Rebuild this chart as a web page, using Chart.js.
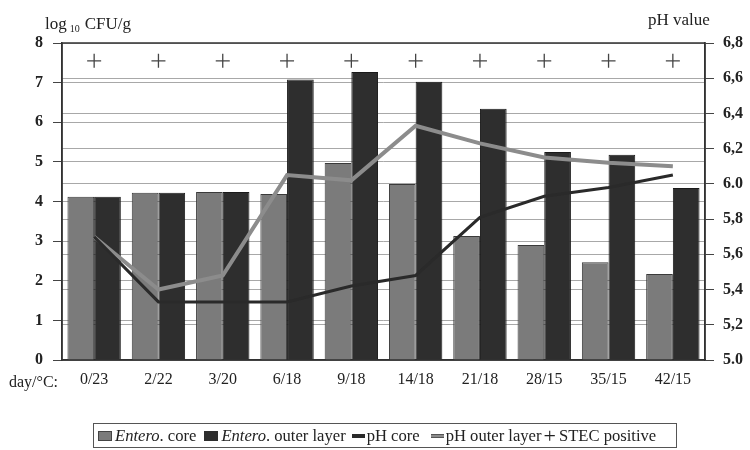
<!DOCTYPE html>
<html>
<head>
<meta charset="utf-8">
<script src="https://cdn.jsdelivr.net/npm/chart.js@4.4.0/dist/chart.umd.min.js"></script>
<style>
  body { margin: 0; background: #fff; }
  #wrap { position: relative; width: 750px; height: 450px; }
  #legend {
    position: absolute; left: 93px; top: 423px; width: 582px; height: 23px;
    border: 1.5px solid #555; box-sizing: content-box;
    font: 16.6px 'Liberation Serif', serif; color: #222;
    display: flex; align-items: center; white-space: nowrap;
  }
  #legend .it { display: flex; align-items: center; }
  #legend .sw { display: inline-block; width: 14px; height: 10px; margin-right: 3px; }
  #legend .dash { display: inline-block; width: 13px; height: 4px; margin-right: 2px; }
  #legend i { font-style: italic; }
</style>
</head>
<body>
<div id="wrap">
  <canvas id="chart" width="750" height="450"></canvas>
  <div id="legend">
    <span class="it" style="margin-left:4px"><span class="sw" style="background:#7b7b7b;border:1px solid #444;box-sizing:border-box"></span><i>Entero</i>.&nbsp;core</span>
    <span class="it" style="margin-left:8px"><span class="sw" style="background:#2e2e2e"></span><i>Entero</i>.&nbsp;outer layer</span>
    <span class="it" style="margin-left:6px"><span class="dash" style="background:#2a2a2a"></span>pH core</span>
    <span class="it" style="margin-left:11px"><span class="dash" style="background:#8c8c8c;border-top:1px solid #555;border-bottom:1px solid #555;box-sizing:border-box"></span>pH outer layer</span>
    <span class="it" style="margin-left:2px"><span style="font-size:22px;line-height:16px;margin-right:3px">+</span>STEC positive</span>
  </div>
</div>
<script>
// Chart data
const categories  = ['0/23','2/22','3/20','6/18','9/18','14/18','21/18','28/15','35/15','42/15'];
const enteroCore  = [4.12, 4.22, 4.24, 4.19, 4.97, 4.44, 3.13, 2.90, 2.47, 2.17];
const enteroOuter = [4.12, 4.22, 4.24, 7.08, 7.27, 7.02, 6.34, 5.25, 5.18, 4.34];
const phCore      = [5.70, 5.33, 5.33, 5.33, 5.42, 5.48, 5.81, 5.93, 5.98, 6.05];
const phOuter     = [5.70, 5.40, 5.48, 6.05, 6.02, 6.33, 6.23, 6.15, 6.12, 6.10];
const stecMarks   = [7.55, 7.55, 7.55, 7.55, 7.55, 7.55, 7.55, 7.55, 7.55, 7.55];
const phTicks      = [5.0, 5.2, 5.4, 5.6, 5.8, 6.0, 6.2, 6.4, 6.6, 6.8];
const phTickLabels = ['5.0','5,2','5,4','5,6','5,8','6.0','6,2','6,4','6,6','6,8'];

Chart.defaults.font.family = "'Liberation Serif', serif";
Chart.defaults.color = '#222';

// frame + extra texts
const extras = {
  id: 'extras',
  beforeDatasetsDraw(chart) {
    const { ctx, chartArea: a } = chart;
    ctx.save();
    ctx.strokeStyle = '#333';
    ctx.lineWidth = 1.5;
    ctx.strokeRect(a.left, a.top, a.right - a.left, a.bottom - a.top);
    ctx.restore();
  },
  afterDraw(chart) {
    const ctx = chart.ctx;
    ctx.save();
    ctx.fillStyle = '#222';
    ctx.textBaseline = 'alphabetic';
    ctx.textAlign = 'left';
    // left title: log10 CFU/g
    ctx.font = "17px 'Liberation Serif', serif";
    ctx.fillText('log', 45, 29);
    let x = 45 + ctx.measureText('log').width + 3;
    ctx.font = "10px 'Liberation Serif', serif";
    ctx.fillText('10', x, 32);
    x += ctx.measureText('10').width + 5;
    ctx.font = "17px 'Liberation Serif', serif";
    ctx.fillText('CFU/g', x, 29);
    // right title
    ctx.fillText('pH value', 648, 25);
    // x prefix
    ctx.font = "16px 'Liberation Serif', serif";
    ctx.fillText('day/\u00B0C:', 9, 387);
    ctx.restore();
  }
};

new Chart(document.getElementById('chart'), {
  type: 'bar',
  data: {
    labels: categories,
    datasets: [
      { label: 'STEC positive', type: 'line', data: stecMarks, yAxisID: 'y', showLine: false,
        pointStyle: 'cross', pointRadius: 7, pointBorderWidth: 1.3, pointBorderColor: '#444', order: 0 },
      { label: 'pH core', type: 'line', data: phCore, yAxisID: 'y1', borderColor: '#2a2a2a',
        borderWidth: 3, pointRadius: 0, tension: 0, order: 1 },
      { label: 'pH outer layer', type: 'line', data: phOuter, yAxisID: 'y1', borderColor: '#8c8c8c',
        borderWidth: 4, pointRadius: 0, tension: 0, order: 1 },
      { label: 'Entero. core', data: enteroCore, yAxisID: 'y', backgroundColor: '#7b7b7b',
        borderColor: '#3a3a3a', borderWidth: 1, categoryPercentage: 0.83, barPercentage: 1.0, order: 2 },
      { label: 'Entero. outer layer', data: enteroOuter, yAxisID: 'y', backgroundColor: '#2e2e2e',
        borderColor: '#1a1a1a', borderWidth: 1, categoryPercentage: 0.83, barPercentage: 1.0, order: 2 }
    ]
  },
  options: {
    responsive: false,
    animation: false,
    devicePixelRatio: 1,
    layout: { padding: { top: 43, left: 0, right: 0, bottom: 0 } },
    plugins: { legend: { display: false }, tooltip: { enabled: false } },
    scales: {
      x: {
        grid: { display: false, drawTicks: false },
        border: { display: true, color: '#333', width: 1.5 },
        ticks: { font: { size: 16 }, padding: 10, maxRotation: 0 },
        afterFit: (s) => { s.height = 90; }
      },
      y: {
        position: 'left', min: 0, max: 8,
        ticks: { stepSize: 1, font: { size: 16, weight: 'bold' }, padding: 10 },
        grid: { color: '#a8a8a8', lineWidth: 1, tickColor: '#444', tickLength: 9 },
        border: { display: true, color: '#333', width: 1.5 },
        afterFit: (s) => { s.width = 62; }
      },
      y1: {
        position: 'right', min: 5.0, max: 6.8,
        afterBuildTicks: (s) => { s.ticks = phTicks.map(v => ({ value: v })); },
        ticks: { font: { size: 16, weight: 'bold' }, padding: 9,
          callback: (v) => phTickLabels[phTicks.findIndex(t => Math.abs(t - v) < 1e-6)] },
        grid: { color: '#a8a8a8', lineWidth: 1, tickColor: '#444', tickLength: 9 },
        border: { display: true, color: '#333', width: 1.5 },
        afterFit: (s) => { s.width = 45; }
      }
    }
  },
  plugins: [extras]
});
</script>
</body>
</html>
